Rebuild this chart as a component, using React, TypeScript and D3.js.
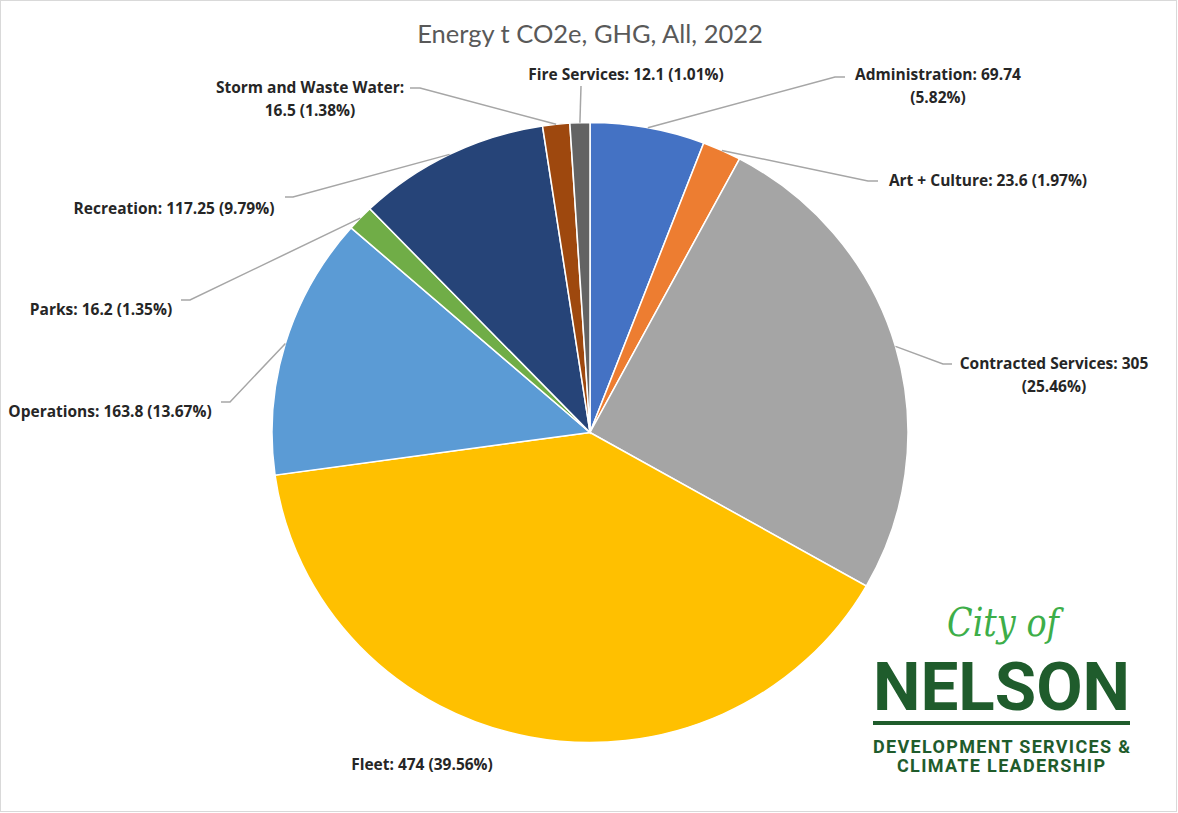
import React from 'react';
import * as d3 from 'd3';

// chart values
const categories = [
  'Administration',
  'Art + Culture',
  'Contracted Services',
  'Fleet',
  'Operations',
  'Parks',
  'Recreation',
  'Storm and Waste Water',
  'Fire Services',
];
const values = [69.74, 23.6, 305, 474, 163.8, 16.2, 117.25, 16.5, 12.1];
const colors = ['#4472C4', '#ED7D31', '#A5A5A5', '#FFC000', '#5B9BD5', '#70AD47', '#264478', '#9E480E', '#636363'];
const title = 'Energy t CO2e, GHG, All, 2022';

// label placement (where Excel put each data label), brk = where the label wraps
interface LabelSpot {
  x: number;
  y: number;
  brk: 'none' | 'pct' | 'value';
  leader: [number, number][] | null;
}
const labelSpots: LabelSpot[] = [
  { x: 938, y: 80, brk: 'pct', leader: [[835, 77], [845, 77]] },
  { x: 988, y: 186, brk: 'none', leader: [[868, 181], [878, 181]] },
  { x: 1054, y: 369, brk: 'pct', leader: [[943, 364], [952, 364]] },
  { x: 422, y: 770, brk: 'none', leader: null },
  { x: 110, y: 417, brk: 'none', leader: [[230, 402], [221, 402]] },
  { x: 101, y: 315, brk: 'none', leader: [[190, 300], [181, 300]] },
  { x: 174, y: 214, brk: 'none', leader: [[293, 197], [285, 197]] },
  { x: 310, y: 93, brk: 'value', leader: [[420, 88], [410, 88]] },
  { x: 626, y: 80, brk: 'none', leader: [[581, 86]] },
];

const W = 1178;
const H = 813;
const cx = 590;
const cy = 432.5;
const ry = 310;
const rx = 318;

const labelFont = '"Open Sans", "Noto Sans", sans-serif';

const App: React.FC = () => {
  const total = d3.sum(values);
  const pie = d3
    .pie<number>()
    .sort(null)
    .value((d) => d);
  const arcs = pie(values);
  const arc = d3.arc<d3.PieArcDatum<number>>().innerRadius(0).outerRadius(ry);

  const edgePoint = (a: number): [number, number] => [cx + rx * Math.sin(a), cy - ry * Math.cos(a)];

  return (
    <svg
      width={W}
      height={H}
      style={{ position: 'absolute', left: 0, top: 0, background: '#fff' }}
    >
      <rect x={0.5} y={0.5} width={W - 2} height={H - 2} fill="#fff" stroke="#d9d9d9" />

      <text
        x={cx}
        y={43}
        textAnchor="middle"
        fontFamily='Lato, "Open Sans", sans-serif'
        fontSize={25.5}
        fill="#595959"
      >
        {title}
      </text>

      <g transform={`translate(${cx},${cy}) scale(${rx / ry},1)`}>
        {arcs.map((a, i) => (
          <path key={categories[i]} d={arc(a) ?? ''} fill={colors[i]} stroke="#fff" strokeWidth={1.5} />
        ))}
      </g>

      {arcs.map((a, i) => {
        const spot = labelSpots[i];
        if (!spot.leader) return null;
        const mid = (a.startAngle + a.endAngle) / 2;
        const pts = [edgePoint(mid), ...spot.leader];
        return (
          <polyline
            key={`leader-${i}`}
            points={pts.map((p) => p.join(',')).join(' ')}
            fill="none"
            stroke="#a6a6a6"
            strokeWidth={1.5}
          />
        );
      })}

      {arcs.map((a, i) => {
        const spot = labelSpots[i];
        const pct = `(${((values[i] / total) * 100).toFixed(2)}%)`;
        const name = `${categories[i]}:`;
        const val = `${values[i]}`;
        let lines: string[];
        if (spot.brk === 'pct') lines = [`${name} ${val}`, pct];
        else if (spot.brk === 'value') lines = [name, `${val} ${pct}`];
        else lines = [`${name} ${val} ${pct}`];
        return (
          <text
            key={`label-${i}`}
            x={spot.x}
            y={spot.y}
            textAnchor="middle"
            fontFamily={labelFont}
            fontWeight={700}
            fontSize={15.5}
            fill="#262626"
          >
            {lines.map((l, j) => (
              <tspan key={j} x={spot.x} dy={j === 0 ? 0 : 23}>
                {l}
              </tspan>
            ))}
          </text>
        );
      })}

      {/* City of Nelson logo */}
      <g>
        <text
          x={1003}
          y={636}
          textAnchor="middle"
          fontFamily='"DejaVu Serif", serif'
          fontStyle="italic"
          fontSize={40}
          fill="#3DAE49"
          textLength={112}
          lengthAdjust="spacingAndGlyphs"
        >
          City of
        </text>
        <text
          x={873}
          y={710}
          fontFamily='Roboto, "Liberation Sans", sans-serif'
          fontWeight={700}
          fontSize={66}
          fill="#1F5C2C"
          textLength={257}
          lengthAdjust="spacingAndGlyphs"
        >
          NELSON
        </text>
        <rect x={873} y={721} width={257} height={4} fill="#1F5C2C" />
        <text
          x={873}
          y={753}
          fontFamily='Roboto, "Liberation Sans", sans-serif'
          fontWeight={700}
          fontSize={18}
          fill="#1F5C2C"
          textLength={257}
          lengthAdjust="spacing"
        >
          DEVELOPMENT SERVICES &amp;
        </text>
        <text
          x={897}
          y={772}
          fontFamily='Roboto, "Liberation Sans", sans-serif'
          fontWeight={700}
          fontSize={18}
          fill="#1F5C2C"
          textLength={208}
          lengthAdjust="spacing"
        >
          CLIMATE LEADERSHIP
        </text>
      </g>
    </svg>
  );
};

export default App;
